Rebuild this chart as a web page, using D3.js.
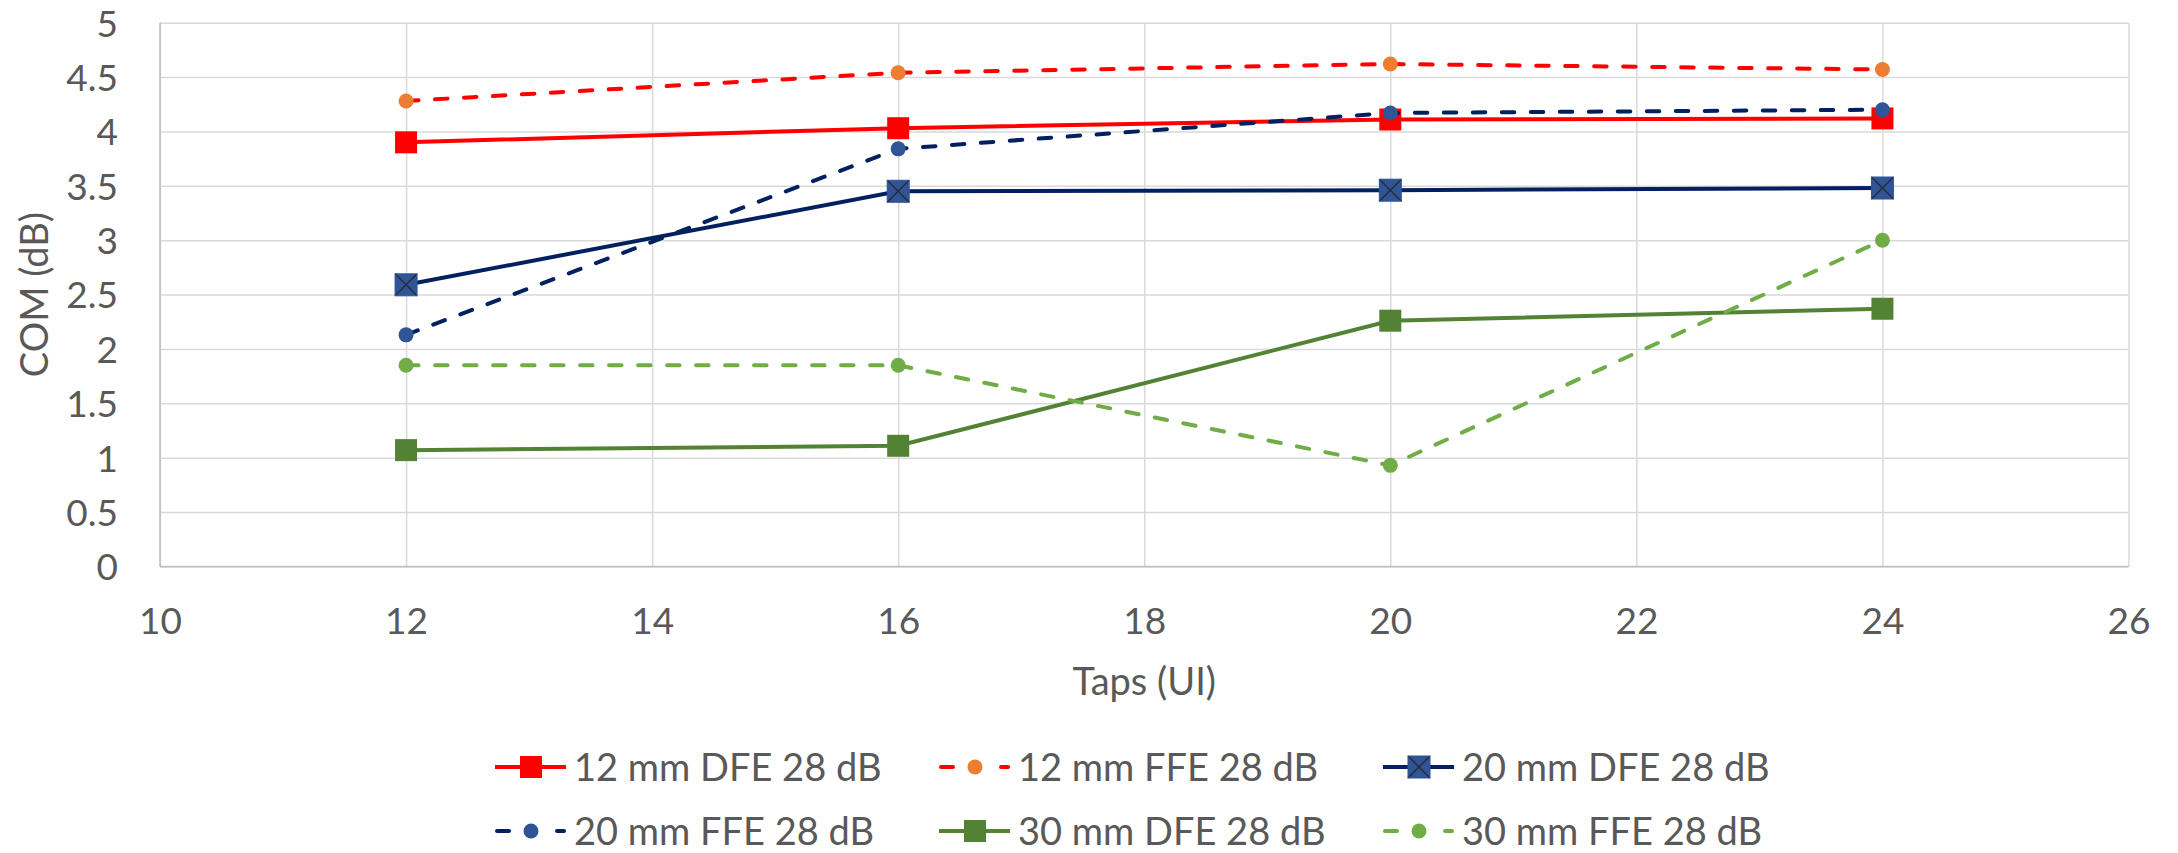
<!DOCTYPE html>
<html>
<head>
<meta charset="utf-8">
<script src="https://cdn.jsdelivr.net/npm/d3@7"></script>
<style>
  body { margin: 0; background: #fff; }
  text { font-family: Lato, "Noto Sans", sans-serif; fill: #595959; }
</style>
</head>
<body>
<div id="chart"></div>
<script>
// data
var taps = [12, 16, 20, 24];
var dfe12 = [3.90, 4.03, 4.11, 4.12];
var ffe12 = [4.28, 4.54, 4.62, 4.57];
var dfe20 = [2.59, 3.45, 3.46, 3.48];
var ffe20 = [2.13, 3.84, 4.17, 4.20];
var dfe30 = [1.07, 1.11, 2.26, 2.37];
var ffe30 = [1.85, 1.85, 0.93, 3.00];
var seriesNames = ["12 mm DFE 28 dB", "12 mm FFE 28 dB", "20 mm DFE 28 dB",
                   "20 mm FFE 28 dB", "30 mm DFE 28 dB", "30 mm FFE 28 dB"];
var xTicks = [10, 12, 14, 16, 18, 20, 22, 24, 26];
var yTicks = [0, 0.5, 1, 1.5, 2, 2.5, 3, 3.5, 4, 4.5, 5];
var xTitle = "Taps (UI)";
var yTitle = "COM (dB)";

// styles per series
var styles = [
  {line: "#FF0000", marker: "square", fill: "#FF0000", dash: false},
  {line: "#FF0000", marker: "circle", fill: "#ED7D31", dash: true},
  {line: "#002060", marker: "xsquare", fill: "#2F5597", dash: false},
  {line: "#002060", marker: "circle", fill: "#2F5597", dash: true},
  {line: "#548235", marker: "square", fill: "#548235", dash: false},
  {line: "#70AD47", marker: "circle", fill: "#70AD47", dash: true}
];
var allValues = [dfe12, ffe12, dfe20, ffe20, dfe30, ffe30];

var W = 2178, H = 853;
var pLeft = 160, pRight = 2128.5, pTop = 22.7, pBottom = 566.5;

var svg = d3.select("#chart").append("svg")
  .attr("width", W).attr("height", H);
svg.append("rect").attr("width", W).attr("height", H).attr("fill", "#fff");

var x = d3.scaleLinear().domain([10, 26]).range([pLeft, pRight]);
var y = d3.scaleLinear().domain([0, 5]).range([pBottom, pTop]);

// grid + x labels
var gx = svg.append("g")
  .attr("transform", "translate(0," + pBottom + ")")
  .call(d3.axisBottom(x).tickValues(xTicks).tickSize(-(pBottom - pTop)).tickFormat(d3.format("d")));
gx.select(".domain").remove();
gx.selectAll("line").attr("stroke", "#D9D9D9").attr("stroke-width", 1.5);
gx.selectAll("text").attr("y", 67.5).attr("dy", null)
  .style("font-size", "37px").attr("fill", "#595959");

var gy = svg.append("g")
  .attr("transform", "translate(" + pLeft + ",0)")
  .call(d3.axisLeft(y).tickValues(yTicks).tickSize(-(pRight - pLeft)).tickFormat(function(d) { return String(d); }));
gy.select(".domain").remove();
gy.selectAll("line").attr("stroke", "#D9D9D9").attr("stroke-width", 1.5);
gy.selectAll("text").attr("x", -42).attr("dy", "0.36em")
  .style("font-size", "37px").attr("fill", "#595959");

// axis lines
svg.append("line").attr("x1", pLeft).attr("x2", pRight).attr("y1", pBottom).attr("y2", pBottom)
  .attr("stroke", "#BFBFBF").attr("stroke-width", 1.5);
svg.append("line").attr("x1", pLeft).attr("x2", pLeft).attr("y1", pTop).attr("y2", pBottom)
  .attr("stroke", "#BFBFBF").attr("stroke-width", 1.5);

// titles
svg.append("text").text(xTitle)
  .attr("x", (pLeft + pRight) / 2).attr("y", 695)
  .attr("text-anchor", "middle").style("font-size", "38px");
svg.append("text").text(yTitle)
  .attr("transform", "translate(48," + ((pTop + pBottom) / 2) + ") rotate(-90)")
  .attr("text-anchor", "middle").style("font-size", "38px");

function drawMarker(g, type, fill, cx, cy) {
  if (type === "circle") {
    g.append("circle").attr("cx", cx).attr("cy", cy).attr("r", 7.5).attr("fill", fill);
  } else {
    g.append("rect").attr("x", cx - 11).attr("y", cy - 11).attr("width", 22).attr("height", 22)
      .attr("fill", fill);
    if (type === "xsquare") {
      g.append("path")
        .attr("d", "M" + (cx - 11) + "," + (cy - 11) + "L" + (cx + 11) + "," + (cy + 11) +
                   "M" + (cx + 11) + "," + (cy - 11) + "L" + (cx - 11) + "," + (cy + 11))
        .attr("stroke", "#2b2b3a").attr("stroke-width", 1.5);
      g.append("rect").attr("x", cx - 11).attr("y", cy - 11).attr("width", 22).attr("height", 22)
        .attr("fill", "none").attr("stroke", "#2F5597").attr("stroke-width", 1);
    }
  }
}

var line = d3.line()
  .x(function(d) { return x(d[0]); })
  .y(function(d) { return y(d[1]); });

allValues.forEach(function(vals, i) {
  var st = styles[i];
  var pts = taps.map(function(t, j) { return [t, vals[j]]; });
  var g = svg.append("g");
  g.append("path").attr("d", line(pts))
    .attr("fill", "none").attr("stroke", st.line).attr("stroke-width", 4)
    .attr("stroke-linecap", st.dash ? "round" : "butt")
    .attr("stroke-dasharray", st.dash ? "12.5,16.5" : null);
  pts.forEach(function(p) { drawMarker(g, st.marker, st.fill, x(p[0]), y(p[1])); });
});

// legend
var legCols = [495, 939, 1383];
var legRows = [767, 831];
seriesNames.forEach(function(name, i) {
  var st = styles[i];
  var lx = legCols[i % 3], ly = legRows[Math.floor(i / 3)];
  var g = svg.append("g");
  if (st.dash) {
    g.append("line").attr("x1", lx + 2).attr("x2", lx + 14).attr("y1", ly).attr("y2", ly)
      .attr("stroke", st.line).attr("stroke-width", 4).attr("stroke-linecap", "round");
    g.append("line").attr("x1", lx + 62).attr("x2", lx + 69).attr("y1", ly).attr("y2", ly)
      .attr("stroke", st.line).attr("stroke-width", 4).attr("stroke-linecap", "round");
  } else {
    g.append("line").attr("x1", lx).attr("x2", lx + 71).attr("y1", ly).attr("y2", ly)
      .attr("stroke", st.line).attr("stroke-width", 4);
  }
  drawMarker(g, st.marker, st.fill, lx + 36, ly);
  g.append("text").text(name).attr("x", lx + 79).attr("y", ly + 13.5)
    .style("font-size", "38px");
});
</script>
</body>
</html>
